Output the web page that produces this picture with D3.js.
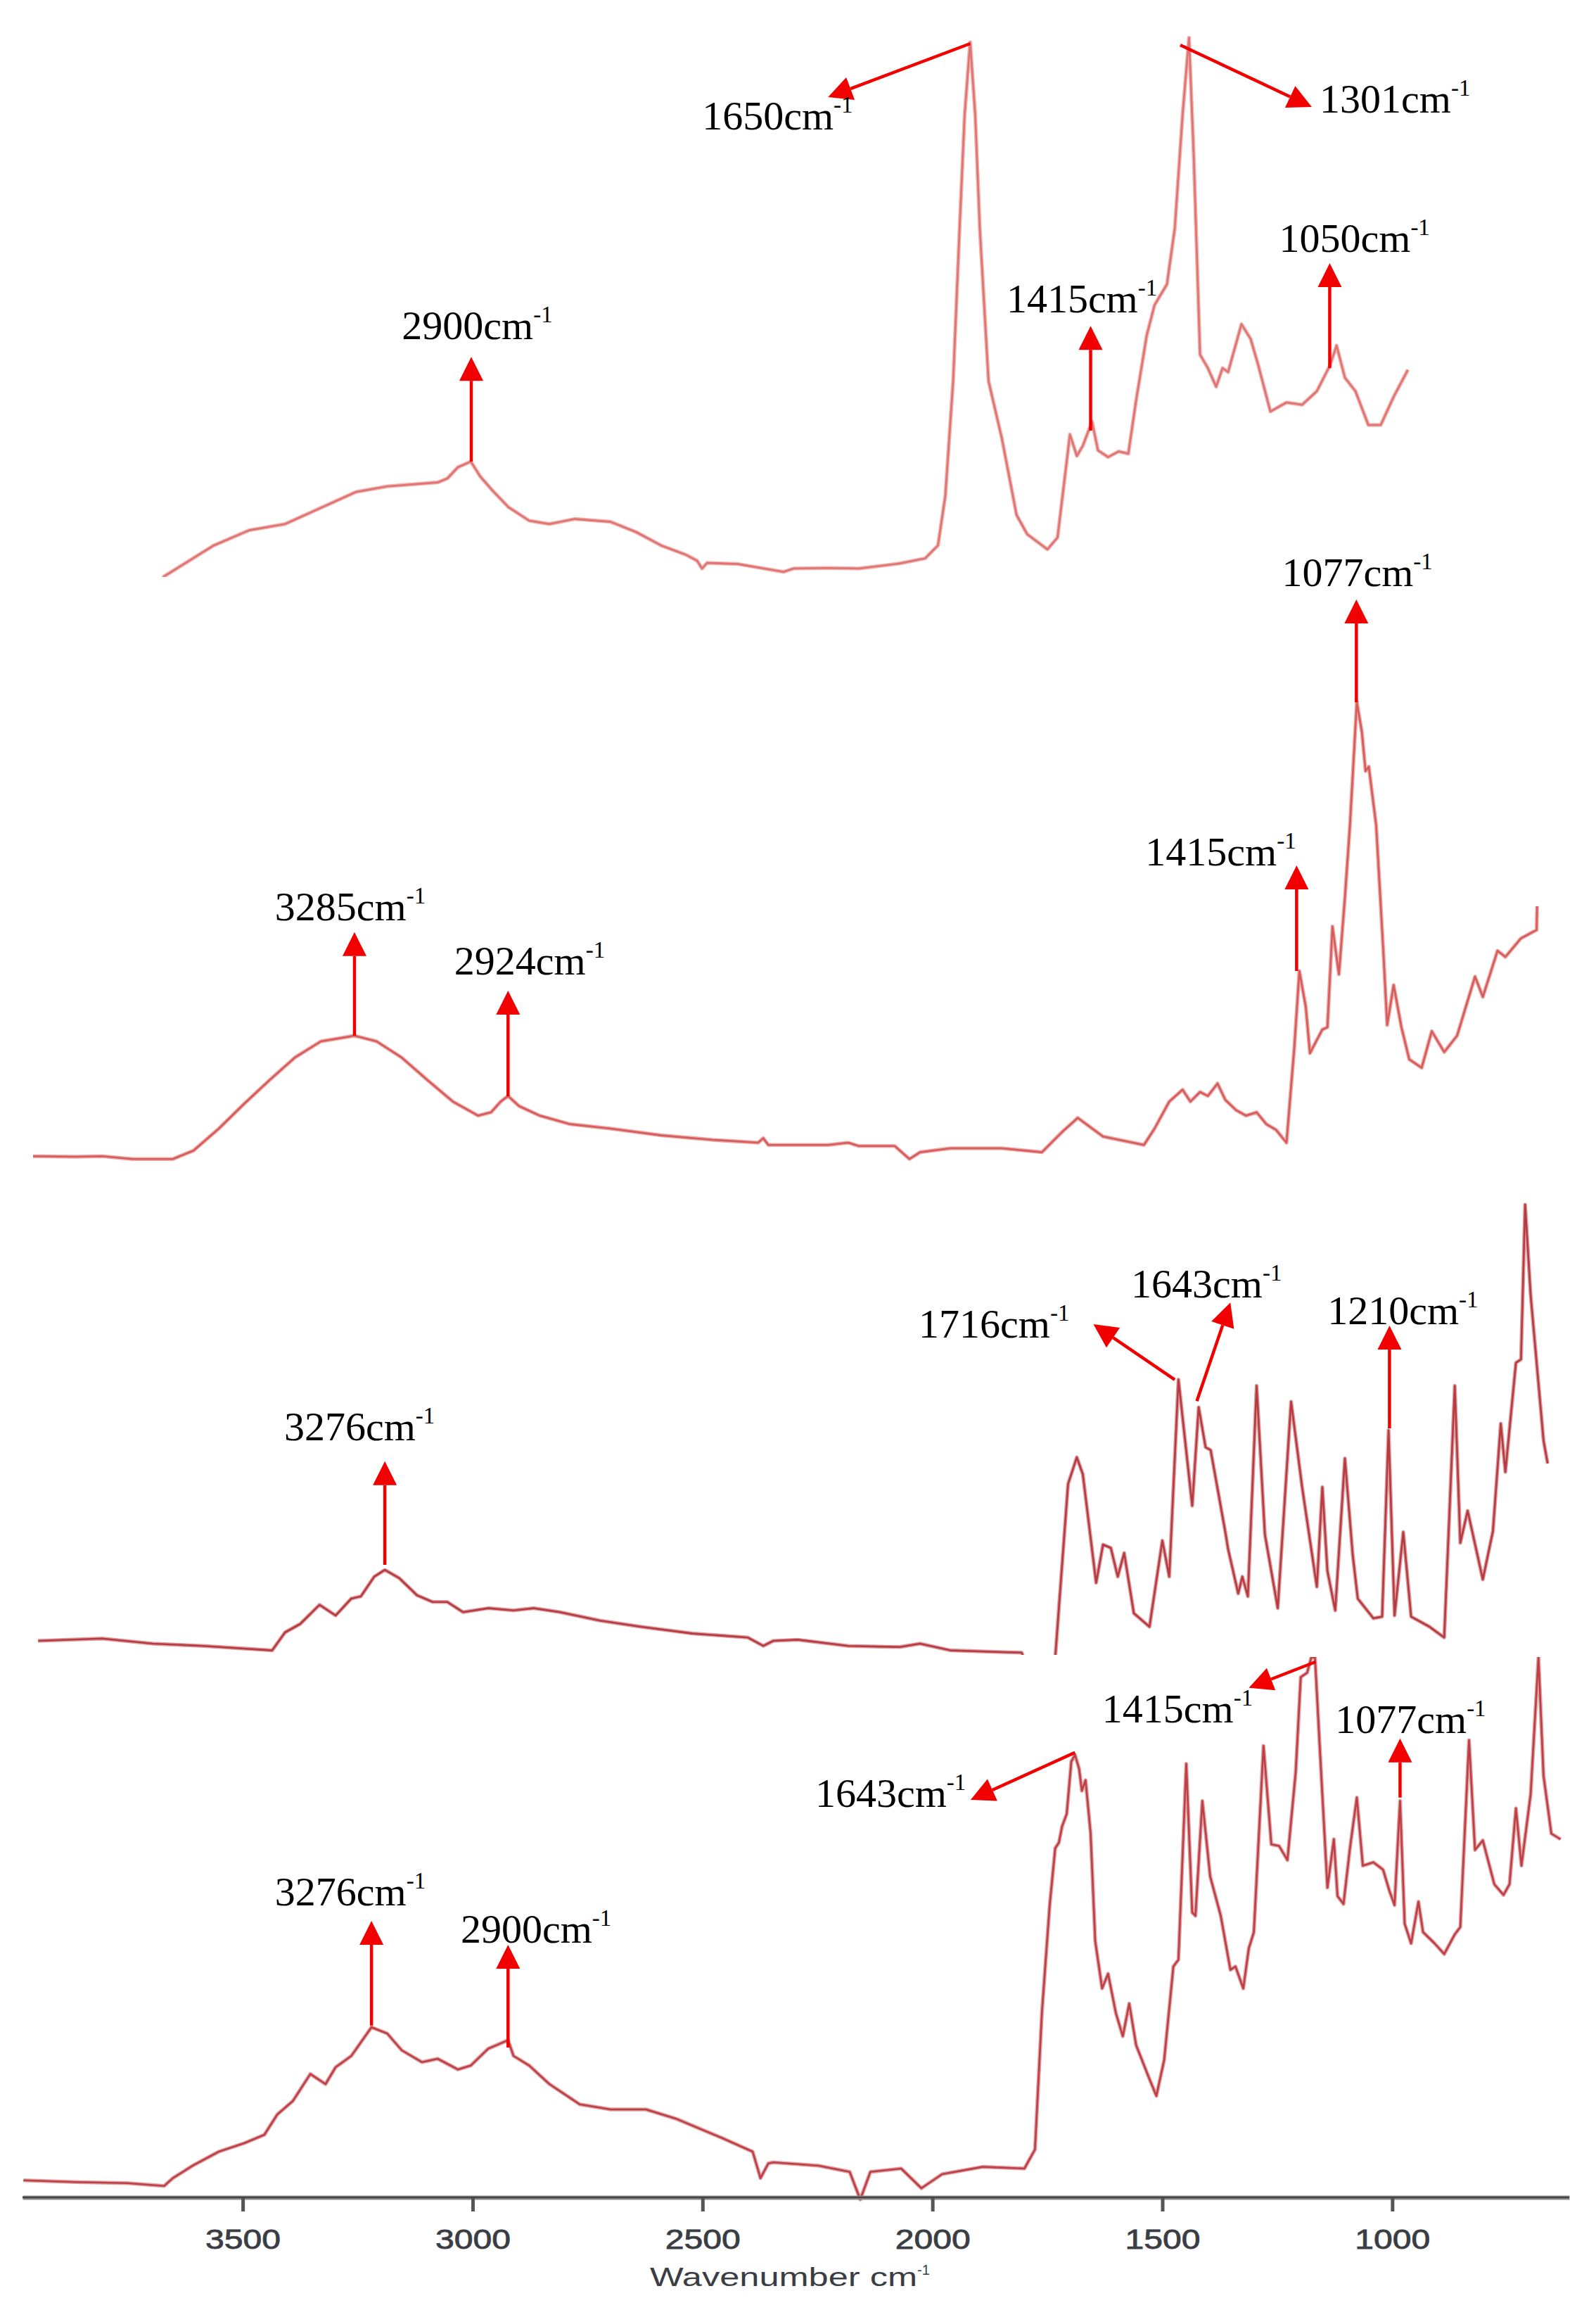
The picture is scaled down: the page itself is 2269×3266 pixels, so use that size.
<!DOCTYPE html>
<html>
<head>
<meta charset="utf-8">
<script src="https://cdn.jsdelivr.net/npm/d3@7"></script>
<style>
body { margin: 0; background: #fff; }
</style>
</head>
<body>
<script>
// FTIR spectra, wavenumber (cm-1) and intensity (a.u.)
var wn1 = [3700,3671,3563,3486,3408,3343,3254,3186,3076,3055,3032,3004,2983,2954,2922,2877,2833,2778,2700,2645,2590,2535,2512,2501,2490,2423,2324,2302,2227,2160,2071,2016,1988,1972,1955,1941,1930,1918,1907,1897,1878,1849,1817,1794,1750,1728,1712,1701,1686,1673,1653,1640,1618,1595,1574,1557,1534,1517,1490,1473,1456,1442,1432,1418,1401,1383,1369,1357,1328,1308,1291,1265,1230,1196,1164,1136,1121,1103,1080,1052,1025,997,966];
var abs1 = [-3,0.1,5.6,8.3,9.4,11.8,15.1,16.1,16.8,17.5,19.5,20.5,17.8,15.1,12.4,10.0,9.4,10.3,9.8,8.0,5.6,3.9,2.9,1.5,2.5,2.3,0.9,1.5,1.6,1.5,2.4,3.3,5.6,14.4,34.8,61.9,82.1,95.0,82.1,61.9,34.8,24.6,11.0,7.6,4.9,7.0,17.8,25.3,21.5,23.3,27.6,22.5,21.3,22.3,21.9,31.4,42.9,48.3,52.0,61.9,82.1,95.8,75.4,39.5,37.1,33.8,37.1,36.4,44.9,42.3,37.5,29.4,31.0,30.6,33.0,37.5,41.1,35.4,33.0,27.0,27.0,32.0,36.8];

var wn2 = [3956,3863,3806,3740,3652,3607,3552,3497,3442,3387,3330,3257,3209,3154,3098,3043,2988,2960,2939,2923,2899,2854,2789,2700,2590,2478,2379,2368,2357,2293,2227,2183,2160,2082,2050,2027,1961,1849,1762,1718,1684,1629,1540,1517,1485,1456,1439,1418,1401,1380,1363,1340,1318,1295,1274,1253,1230,1213,1202,1188,1179,1152,1141,1130,1116,1103,1092,1077,1066,1058,1051,1035,1020,1011,997,980,963,936,914,887,859,820,803,771,754,720,686,685];
var abs2 = [2.1,2.0,2.1,1.6,1.6,3.1,7.0,11.4,15.6,19.6,22.5,23.5,22.5,19.6,15.6,11.8,9.3,9.9,11.8,12.8,11.0,9.3,7.8,7.0,5.8,5.0,4.5,5.3,4.1,4.1,4.1,4.5,3.9,3.9,1.6,2.8,3.5,3.5,2.8,6.4,8.9,5.6,4.1,7.0,11.8,13.9,11.8,13.5,12.8,15.0,12.1,10.3,9.3,9.9,7.8,6.8,4.5,21.4,35.0,28.6,20.4,24.6,25.0,42.9,34.4,48.0,60.9,82.8,77.4,70.5,71.3,60.9,39.4,25.4,32.5,25.0,19.3,17.8,24.3,20.6,23.5,34.0,30.4,38.6,37.5,40.8,42.3,46.5];

var wn3 = [3945,3806,3696,3586,3436,3408,3375,3333,3298,3264,3243,3214,3191,3159,3121,3087,3055,3021,2966,2911,2867,2810,2723,2634,2522,2402,2368,2346,2293,2183,2071,2027,1961,1849,1806,1790,1745,1733,1705,1686,1673,1644,1629,1612,1597,1583,1562,1528,1500,1485,1465,1435,1421,1406,1395,1363,1357,1335,1326,1314,1295,1277,1249,1220,1196,1164,1152,1141,1124,1103,1086,1075,1041,1022,1008,995,976,959,919,887,864,852,836,803,781,764,754,731,720,711,699,671,662];
var abs3 = [2.5,2.9,2.0,1.6,0.8,4.0,5.5,8.9,7.0,10.0,10.4,13.9,15.1,13.6,10.6,9.4,9.4,7.6,8.3,7.9,8.3,7.6,6.1,5.0,3.8,3.1,1.6,2.5,2.7,1.6,1.4,2.0,0.8,0.5,0.4,-3,-3,-0.5,30.4,35.1,32.1,12.8,19.6,19.0,13.9,18.1,7.4,5.0,20.3,13.9,48.9,26.5,44.0,36.9,36.4,21.8,18.8,10.9,13.9,10.4,47.8,21.4,8.3,45.0,29.8,12.1,29.8,14.9,7.9,34.9,17.8,10.0,6.5,6.8,39.9,7.0,21.8,6.8,5.0,3.1,47.8,19.9,25.6,13.4,22.0,41.1,32.5,51.9,52.5,80.0,63.9,38.1,34.0];

var wn4 = [3977,3863,3751,3671,3652,3607,3552,3497,3453,3425,3391,3353,3320,3298,3264,3220,3186,3154,3110,3076,3032,3004,2966,2923,2911,2877,2833,2767,2700,2623,2556,2457,2391,2374,2357,2346,2247,2180,2157,2135,2068,2024,1979,1891,1800,1777,1762,1745,1733,1725,1718,1708,1698,1690,1681,1675,1667,1656,1646,1631,1618,1601,1586,1572,1557,1529,1513,1496,1476,1465,1448,1435,1428,1413,1396,1373,1352,1341,1324,1312,1301,1280,1263,1246,1228,1210,1199,1185,1176,1168,1158,1141,1127,1119,1106,1092,1077,1064,1041,1020,1006,995,983,973,959,943,933,908,887,864,852,833,820,803,778,758,745,731,719,699,682,671,654,634];
var abs4 = [1.4,1.1,0.9,0.4,1.8,4.1,6.5,8.0,9.5,13.1,15.5,20.3,18.5,21.5,23.5,28.6,27.5,24.5,22.4,23.0,21.1,21.8,24.8,26.3,23.5,21.8,18.5,14.9,14.0,14.0,12.3,8.9,6.5,1.8,4.4,4.6,4.0,2.9,-2.0,2.9,3.5,0,2.5,3.8,3.5,6.9,31.1,50.3,60.4,61.4,64.3,66.5,75.8,77.0,74.5,70.6,72.5,63.0,43.9,35.5,38.1,31.1,27.0,32.8,25.4,19.6,16.4,22.8,39.4,40.6,75.4,49.0,48.4,68.8,55.4,48.4,38.8,39.4,35.5,42.6,45.5,78.6,61.1,60.8,58.3,73.9,90.8,91.6,94.3,94.3,78.9,53.4,62.0,51.9,50.5,60.4,69.4,57.3,57.9,56.6,52.8,50.3,68.8,47.0,43.5,50.9,45.5,43.5,41.6,45.1,46.4,79.6,60.1,61.8,54.0,52.1,54.0,67.5,57.3,70.0,94.3,73.3,63.0,62.0];

var tickValues = [3500, 3000, 2500, 2000, 1500, 1000];

// peak labels per spectrum
var peaks1 = ['2900', '1650', '1301', '1415', '1050'];
var peaks2 = ['3285', '2924', '1077', '1415'];
var peaks3 = ['1716', '1643', '1210', '3276'];
var peaks4 = ['3276', '2900', '1643', '1415', '1077'];

// arrow start, arrow tip and label anchor, in [wavenumber, intensity] of each spectrum
var arrows1 = [
  [[3003, 20.5], [3003, 39.1], [3154, 42.3]],
  [[1918, 94.75], [2227, 85.25], [2501, 79.5]],
  [[1461, 94.5], [1175, 83.5], [1158, 82.5]],
  [[1656, 26], [1656, 44.6], [1839, 47]],
  [[1136, 37.1], [1136, 55.75], [1246, 57.75]]
];
var arrows2 = [
  [[3257, 23.5], [3257, 41.9], [3430, 44]],
  [[2923, 12.75], [2923, 31.5], [3040, 34.4]],
  [[1078, 82.75], [1078, 101], [1240, 103.4]],
  [[1208, 35], [1208, 53.75], [1537, 53.75]]
];
var arrows3 = [
  [[1473, 48.9], [1650, 58.75], [2030, 56.4]],
  [[1425, 45.1], [1352, 62.6], [1568, 63.5]],
  [[1006, 40.25], [1006, 58.5], [1141, 58.75]],
  [[3191, 16], [3191, 34.4], [3410, 38.1]]
];
var arrows4 = [
  [[3220, 28.9], [3220, 47.5], [3430, 50.25]],
  [[2923, 25], [2923, 43.25], [3026, 43.6]],
  [[1690, 77.4], [1917, 69], [2255, 67.75]],
  [[1167, 93.5], [1312, 88.9], [1631, 82.75]],
  [[983, 69.4], [983, 79.9], [1124, 80.9]]
];

var W = 2269, H = 3266;
var svg = d3.select('body').append('svg').attr('width', W).attr('height', H);

var x = d3.scaleLinear().domain([3979, 615]).range([32, 2231]);

// each spectrum is a pasted strip with its own baseline
var strips = [
  {wn: wn1, val: abs1, peaks: peaks1, arrows: arrows1, base: 820, top: 0, bottom: 820, color: '#de7472', halo: '#f0b4b2'},
  {wn: wn2, val: abs2, peaks: peaks2, arrows: arrows2, base: 1660, top: 830, bottom: 1665, color: '#d45c5b', halo: '#eeaaa9'},
  {wn: wn3, val: abs3, peaks: peaks3, arrows: arrows3, base: 2352, top: 1665, bottom: 2352, color: '#b63a40', halo: '#dca0a2'},
  {wn: wn4, val: abs4, peaks: peaks4, arrows: arrows4, base: 3110, top: 2355, bottom: 3130, color: '#bd3f45', halo: '#e0a3a5'}
];

var defs = svg.append('defs');

strips.forEach(function (s, i) {
  var y = d3.scaleLinear().domain([0, 100]).range([s.base, s.base - 800]);
  defs.append('clipPath').attr('id', 'clip' + i)
    .append('rect').attr('x', 0).attr('y', s.top).attr('width', W).attr('height', s.bottom - s.top);

  var pts = d3.zip(s.wn, s.val);
  var line = d3.line().x(function (d) { return x(d[0]); }).y(function (d) { return y(d[1]); });
  var g = svg.append('g').attr('clip-path', 'url(#clip' + i + ')');
  // soft edge then darker core, like the scanned trace
  g.append('path').datum(pts)
    .attr('d', line)
    .attr('fill', 'none')
    .attr('stroke', s.halo)
    .attr('stroke-width', 5.5)
    .attr('stroke-linejoin', 'round');
  g.append('path').datum(pts)
    .attr('d', line)
    .attr('fill', 'none')
    .attr('stroke', s.color)
    .attr('stroke-width', 2.6)
    .attr('stroke-linejoin', 'round');

  // arrows + labels
  s.arrows.forEach(function (a, k) {
    var x0 = x(a[0][0]), y0 = y(a[0][1]);
    var x1 = x(a[1][0]), y1 = y(a[1][1]);
    var dx = x1 - x0, dy = y1 - y0, len = Math.sqrt(dx * dx + dy * dy);
    var ux = dx / len, uy = dy / len;
    var hl = 34, hw = 17;
    var bx = x1 - ux * hl, by = y1 - uy * hl;
    svg.append('line')
      .attr('x1', x0).attr('y1', y0).attr('x2', bx).attr('y2', by)
      .attr('stroke', '#f20000').attr('stroke-width', 4.5);
    svg.append('polygon')
      .attr('points', [
        [x1, y1],
        [bx - uy * hw, by + ux * hw],
        [bx + uy * hw, by - ux * hw]
      ].map(function (p) { return p.join(','); }).join(' '))
      .attr('fill', '#f20000');

    var t = svg.append('text')
      .attr('x', x(a[2][0])).attr('y', y(a[2][1]))
      .attr('font-family', '"Liberation Serif", "Times New Roman", serif')
      .attr('font-size', 58).attr('fill', '#000');
    t.append('tspan').text(s.peaks[k] + 'cm');
    t.append('tspan').attr('dy', -24).attr('font-size', 33).text('-1');
  });
});

// bottom axis
var axisY = 3123;
var axis = d3.axisBottom(x).tickValues(tickValues).tickSize(20).tickSizeOuter(0).tickPadding(26)
  .tickFormat(d3.format('d'));
var gx = svg.append('g').attr('transform', 'translate(0,' + axisY + ')').call(axis);
gx.select('.domain').attr('stroke', '#8c8c8c').attr('stroke-width', 6);
gx.append('line').attr('x1', 32).attr('x2', 2231).attr('y1', 0).attr('y2', 0)
  .attr('stroke', '#444', ).attr('stroke-width', 2.5);
gx.selectAll('.tick line').attr('stroke', '#555').attr('stroke-width', 5);
gx.selectAll('.tick text')
  .attr('font-family', '"Liberation Sans", Arial, sans-serif')
  .attr('font-size', 38).attr('fill', '#3a3e44')
  .attr('stroke', '#3a3e44').attr('stroke-width', 0.8)
  .attr('textLength', 107).attr('lengthAdjust', 'spacingAndGlyphs');

var xl = svg.append('text')
  .attr('x', 924).attr('y', 3249)
  .attr('font-family', '"Liberation Sans", Arial, sans-serif')
  .attr('font-size', 36).attr('fill', '#3a3e44');
xl.append('tspan').attr('textLength', 380).attr('lengthAdjust', 'spacingAndGlyphs').text('Wavenumber cm');
xl.append('tspan').attr('dy', -16).attr('font-size', 20).text('-1');
</script>
</body>
</html>
